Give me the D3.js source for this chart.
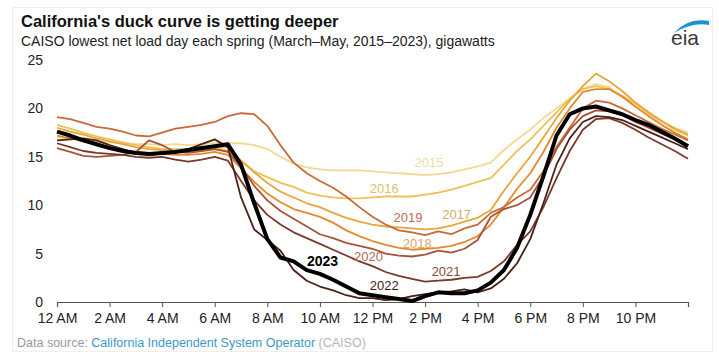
<!DOCTYPE html>
<html>
<head>
<meta charset="utf-8">
<script src="https://cdn.jsdelivr.net/npm/d3@7"></script>
<style>
  body { margin: 0; background: #fff; }
  svg { font-family: Arial, "Liberation Sans", sans-serif; }
</style>
</head>
<body>
<div id="chart"></div>
<script>
// half-hour steps, 12 AM .. 12 AM next day
var hours = d3.range(0, 24.5, 0.5);

var years = ["2015", "2016", "2017", "2018", "2019", "2020", "2021", "2022", "2023"];

var colors = ["#f3d98e", "#ecc15a", "#e8a63a", "#e58a2a", "#c96a36", "#a8523a", "#7a392b", "#4a2218", "#000000"];
var labelColors = ["#f0dca6", "#e2bf68", "#d6ab62", "#e5a463", "#b8704f", "#b06a52", "#8a4a3a", "#3a2418", "#000000"];

// gigawatts
var load2015 = [17.0, 16.9, 16.8, 16.6, 16.5, 16.4, 16.3, 16.3, 16.2, 16.3, 16.2, 16.3, 16.4, 16.4, 16.4, 16.2, 15.8, 15.0, 14.3, 13.9, 13.7, 13.6, 13.6, 13.6, 13.5, 13.4, 13.3, 13.2, 13.1, 13.2, 13.4, 13.7, 14.0, 14.4, 15.7, 16.8, 17.8, 19.0, 20.0, 21.0, 22.0, 22.5, 22.2, 21.2, 20.2, 19.3, 18.6, 18.0, 17.5];
var load2016 = [18.3, 17.9, 17.5, 17.1, 16.8, 16.5, 16.2, 16.0, 15.8, 15.8, 15.8, 15.9, 15.9, 16.0, 14.6, 13.5, 12.9, 12.3, 11.9, 11.3, 11.0, 10.8, 10.7, 10.7, 10.8, 10.9, 10.9, 10.9, 11.1, 11.3, 11.6, 12.0, 12.4, 12.8, 14.2, 15.6, 16.8, 18.2, 19.6, 21.0, 22.0, 22.3, 22.0, 21.3, 20.5, 19.5, 18.7, 17.8, 17.2];
var load2017 = [18.0, 17.6, 17.3, 16.9, 16.6, 16.3, 16.0, 15.8, 15.7, 15.6, 15.6, 15.7, 15.8, 15.6, 14.6, 13.4, 12.3, 11.4, 10.8, 10.2, 9.8, 9.2, 8.7, 8.3, 8.0, 7.8, 7.7, 7.6, 7.5, 7.6, 7.9, 8.3, 8.7, 9.5, 11.5, 13.3, 15.0, 17.0, 19.0, 20.8, 22.3, 23.6, 22.8, 21.8, 20.6, 19.6, 18.7, 17.9, 17.3];
var load2018 = [17.2, 16.9, 16.6, 16.3, 16.0, 15.7, 15.5, 15.4, 15.3, 15.2, 15.2, 15.3, 15.5, 15.2, 13.8, 12.4, 11.2, 10.3, 9.6, 9.2, 8.8, 8.2, 7.4, 6.8, 6.3, 5.9, 5.6, 5.4, 5.5, 5.6, 5.8, 6.2, 6.8, 8.0, 9.8, 11.7, 13.3, 15.5, 18.0, 20.0, 21.7, 22.0, 22.0, 21.2, 20.2, 19.2, 18.3, 17.5, 16.8];
var load2019 = [19.1, 18.9, 18.5, 18.1, 17.9, 17.6, 17.2, 17.1, 17.5, 17.9, 18.1, 18.3, 18.6, 19.2, 19.5, 19.4, 18.2, 16.2, 14.4, 13.3, 12.5, 11.8, 10.9, 9.8, 8.8, 8.0, 7.4, 7.2, 6.9, 7.3, 7.0, 7.6, 8.0, 9.2, 9.8, 10.8, 11.6, 13.5, 16.0, 18.0, 20.0, 20.8, 20.6, 20.0, 19.3, 18.6, 17.9, 17.3, 16.7];
var load2020 = [15.9, 15.5, 15.1, 15.0, 15.1, 15.2, 15.5, 16.7, 16.2, 15.5, 15.4, 15.6, 15.8, 15.5, 14.0, 12.0, 10.5, 9.4, 8.6, 7.8, 7.0, 6.6, 6.1, 5.8, 5.5, 5.0, 4.8, 4.7, 4.9, 5.3, 5.1, 5.5, 6.4, 8.8, 9.6, 10.0, 10.8, 13.0, 15.8, 17.8, 19.2, 19.8, 19.7, 19.3, 18.6, 18.0, 17.4, 16.8, 16.2];
var load2021 = [16.4, 16.0, 15.6, 15.4, 15.3, 15.2, 15.0, 14.9, 15.0, 14.7, 14.5, 14.7, 15.0, 14.6, 12.5, 10.5, 9.0, 8.0, 7.2, 6.6, 6.0, 5.4, 4.8, 4.2, 3.7, 3.1, 2.7, 2.4, 2.1, 2.2, 2.3, 2.5, 2.6, 3.2, 4.2, 5.9, 7.3, 9.8, 12.8, 15.6, 17.8, 18.9, 19.0, 18.5, 17.8, 17.0, 16.3, 15.6, 14.8];
var load2022 = [16.7, 16.8, 16.9, 16.7, 16.2, 15.8, 15.4, 15.2, 15.3, 15.5, 15.8, 16.3, 16.8, 16.0, 10.8, 7.5, 6.4, 5.3, 3.3, 2.2, 1.6, 1.2, 0.7, 0.4, 0.4, 0.2, 0.3, 0.6, 0.8, 1.0, 1.1, 1.3, 1.0, 1.4, 2.4, 4.0, 6.5, 10.2, 14.2, 16.9, 18.6, 19.2, 19.1, 18.8, 18.2, 17.6, 17.0, 16.4, 15.8];
var load2023 = [17.6, 17.2, 16.7, 16.3, 15.9, 15.6, 15.4, 15.3, 15.4, 15.5, 15.7, 15.9, 16.1, 16.3, 14.2, 10.2, 6.5, 4.6, 4.2, 3.3, 2.9, 2.3, 1.6, 0.9, 0.7, 0.5, 0.3, 0.1, 0.6, 1.0, 0.9, 0.9, 1.2, 2.0, 3.3, 5.6, 9.0, 13.0, 17.2, 19.4, 20.0, 20.2, 19.8, 19.4, 18.8, 18.3, 17.6, 16.9, 16.1];

var series = [load2015, load2016, load2017, load2018, load2019, load2020, load2021, load2022, load2023];

// where each year label sits: hour, gigawatts
var labelHour = [14.15, 12.45, 15.2, 13.7, 13.35, 11.85, 14.8, 12.45, 10.1];
var labelValue = [14.4, 11.7, 9.0, 6.0, 8.7, 4.75, 3.2, 1.75, 4.25];

var xTicks = d3.range(0, 25, 2);
var xTickLabels = ["12 AM", "2 AM", "4 AM", "6 AM", "8 AM", "10 AM", "12 PM", "2 PM", "4 PM", "6 PM", "8 PM", "10 PM", ""];
var yTicks = [0, 5, 10, 15, 20, 25];

var W = 719, H = 360;
var margin = { top: 60, right: 31, bottom: 58, left: 57 };

var svg = d3.select("#chart").append("svg")
    .attr("width", W)
    .attr("height", H);

// faint frame
svg.append("rect")
    .attr("x", 12.5).attr("y", 7.5)
    .attr("width", 700).attr("height", 344)
    .attr("fill", "none")
    .attr("stroke", "#efefef");

svg.append("text")
    .attr("x", 21).attr("y", 27)
    .attr("font-size", 16.5)
    .attr("font-weight", "bold")
    .attr("fill", "#111")
    .text("California's duck curve is getting deeper");

svg.append("text")
    .attr("x", 21).attr("y", 46)
    .attr("font-size", 14)
    .attr("fill", "#222")
    .text("CAISO lowest net load day each spring (March\u2013May, 2015\u20132023), gigawatts");

// eia logo
svg.append("path")
    .attr("d", "M674,33 Q688,17 709,21 L709,25 Q692,22 674,33 Z")
    .attr("fill", "#1b8fd0");
svg.append("text")
    .attr("x", 671).attr("y", 45)
    .attr("font-size", 21)
    .attr("fill", "#3a3a3a")
    .text("eia");

var x = d3.scaleLinear()
    .domain([0, 24])
    .range([margin.left, W - margin.right]);

var y = d3.scaleLinear()
    .domain([0, 25])
    .range([H - margin.bottom, margin.top]);

// y labels, no axis line
svg.append("g")
    .selectAll("text")
    .data(yTicks)
    .enter()
    .append("text")
    .attr("x", margin.left - 14)
    .attr("y", function(d) { return y(d); })
    .attr("dy", "0.35em")
    .attr("text-anchor", "end")
    .attr("font-size", 14)
    .attr("fill", "#222")
    .text(function(d) { return d; });

var xAxis = d3.axisBottom(x)
    .tickValues(xTicks)
    .tickSize(5)
    .tickFormat(function(d, i) { return xTickLabels[i]; });

var gx = svg.append("g")
    .attr("transform", "translate(0," + y(0) + ")")
    .call(xAxis);
gx.select(".domain").attr("stroke", "#555").attr("stroke-width", 1.2);
gx.selectAll(".tick line").attr("stroke", "#555");
gx.selectAll(".tick text")
    .attr("font-size", 14)
    .attr("font-family", "Arial, 'Liberation Sans', sans-serif")
    .attr("fill", "#222")
    .attr("dy", "0.95em");

var line = d3.line()
    .x(function(d, i) { return x(hours[i]); })
    .y(function(d) { return y(d); });

svg.append("g")
    .selectAll("path")
    .data(series)
    .enter()
    .append("path")
    .attr("fill", "none")
    .attr("stroke", function(d, i) { return colors[i]; })
    .attr("stroke-width", function(d, i) { return i === 8 ? 4 : 1.8; })
    .attr("stroke-linejoin", "round")
    .attr("d", line);

svg.append("g")
    .selectAll("text")
    .data(years)
    .enter()
    .append("text")
    .attr("x", function(d, i) { return x(labelHour[i]); })
    .attr("y", function(d, i) { return y(labelValue[i]); })
    .attr("dy", "0.35em")
    .attr("text-anchor", "middle")
    .attr("font-size", function(d, i) { return i === 8 ? 14 : 13; })
    .attr("font-weight", function(d, i) { return i === 8 ? "bold" : "normal"; })
    .attr("fill", function(d, i) { return labelColors[i]; })
    .text(function(d) { return d; });

// source line
var src = svg.append("text")
    .attr("x", 17).attr("y", 347)
    .attr("font-size", 12.5);
src.append("tspan").attr("fill", "#9a9a9a").text("Data source: ");
src.append("tspan").attr("fill", "#3b97c8").text("California Independent System Operator");
src.append("tspan").attr("fill", "#b5b5b5").text(" (CAISO)");
</script>
</body>
</html>
